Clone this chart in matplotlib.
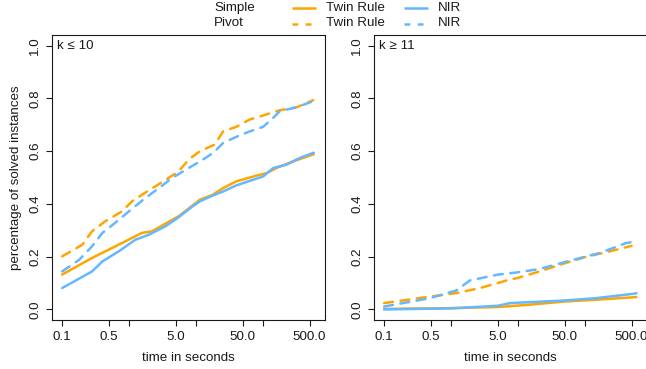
import matplotlib
matplotlib.use("Agg")
import matplotlib.pyplot as plt
from matplotlib.lines import Line2D

plt.rcParams['font.family'] = ['Liberation Sans', 'DejaVu Sans']

ORANGE = "#FFA500"
BLUE = "#63B8FF"

# ---- data: left panel (k <= 10) ----
L_twin_simple_t = [0.1, 0.28, 0.56, 1.11, 1.56, 2.2, 3.5, 5.5, 8.3, 11.5, 18, 25.5, 40, 80, 115, 160, 283, 577]
L_twin_simple_v = [0.132, 0.195, 0.233, 0.271, 0.29, 0.296, 0.325, 0.353, 0.388, 0.416, 0.435, 0.46, 0.485, 0.507, 0.517, 0.536, 0.561, 0.588]
L_nir_simple_t = [0.1, 0.28, 0.4, 0.7, 1.24, 1.97, 3.5, 5.5, 8.3, 11.5, 18, 25.5, 40, 60, 101, 143, 228, 356, 577]
L_nir_simple_v = [0.081, 0.144, 0.182, 0.22, 0.264, 0.283, 0.315, 0.349, 0.385, 0.41, 0.432, 0.447, 0.47, 0.485, 0.504, 0.536, 0.549, 0.574, 0.594]
L_twin_pivot_t = [0.1, 0.2, 0.28, 0.44, 0.79, 1.11, 1.97, 3.1, 5.5, 7.8, 11.5, 19.2, 25.5, 40, 64, 101, 179, 318, 564]
L_twin_pivot_v = [0.201, 0.245, 0.296, 0.334, 0.372, 0.41, 0.451, 0.482, 0.523, 0.568, 0.6, 0.625, 0.675, 0.692, 0.72, 0.735, 0.755, 0.766, 0.793]
L_nir_pivot_t = [0.1, 0.18, 0.28, 0.4, 0.62, 1.0, 1.75, 2.8, 4.4, 7.8, 11.5, 18.1, 25.5, 40, 64, 101, 143, 179, 318, 564]
L_nir_pivot_v = [0.144, 0.188, 0.239, 0.29, 0.328, 0.372, 0.422, 0.46, 0.498, 0.536, 0.561, 0.593, 0.631, 0.654, 0.675, 0.692, 0.726, 0.751, 0.766, 0.789]

# ---- data: right panel (k >= 11) ----
R_twin_simple_t = [0.1, 1, 5, 15, 50, 150, 460, 590]
R_twin_simple_v = [0.002, 0.005, 0.009, 0.018, 0.03, 0.037, 0.045, 0.047]
R_nir_simple_t = [0.1, 1, 5, 7.6, 50, 150, 560, 590]
R_nir_simple_v = [0.0, 0.004, 0.014, 0.024, 0.034, 0.043, 0.06, 0.062]
R_twin_pivot_t = [0.1, 0.49, 1.2, 2.7, 5, 6.8, 9.5, 21, 50, 106, 236, 500]
R_twin_pivot_v = [0.024, 0.049, 0.062, 0.081, 0.10, 0.11, 0.118, 0.144, 0.175, 0.2, 0.22, 0.241]
R_nir_pivot_t = [0.1, 0.49, 1.2, 1.92, 5, 9.5, 21, 60, 168, 419, 500]
R_nir_pivot_v = [0.011, 0.043, 0.072, 0.11, 0.132, 0.14, 0.153, 0.185, 0.214, 0.252, 0.255]

x_ticks = [0.1, 0.5, 1, 5, 10, 50, 100, 500]
x_ticklabels = ["0.1", "0.5", "", "5.0", "", "50.0", "", "500.0"]
y_ticks = [0.0, 0.2, 0.4, 0.6, 0.8, 1.0]
y_ticklabels = ["0.0", "0.2", "0.4", "0.6", "0.8", "1.0"]
panel_titles = ["k \u2264 10", "k \u2265 11"]
legend_rows = ["Simple", "Pivot"]
legend_series = ["Twin Rule", "NIR"]

FS = 9.6
LW = 1.8
DASH = (0, (3.6, 3.0))
TXT = '#1a1a1a'

W, H = 646, 369
fig = plt.figure(figsize=(W / 100, H / 100), dpi=100)

axes_px = [(52, 35), (374, 35)]
aw, ah = 273, 285
panels = [
    [(L_twin_simple_t, L_twin_simple_v, ORANGE, '-'),
     (L_twin_pivot_t, L_twin_pivot_v, ORANGE, DASH),
     (L_nir_simple_t, L_nir_simple_v, BLUE, '-'),
     (L_nir_pivot_t, L_nir_pivot_v, BLUE, DASH)],
    [(R_twin_simple_t, R_twin_simple_v, ORANGE, '-'),
     (R_twin_pivot_t, R_twin_pivot_v, ORANGE, DASH),
     (R_nir_simple_t, R_nir_simple_v, BLUE, '-'),
     (R_nir_pivot_t, R_nir_pivot_v, BLUE, DASH)],
]

for i, (x0, y0) in enumerate(axes_px):
    ax = fig.add_axes([x0 / W, (H - y0 - ah) / H, aw / W, ah / H])
    for t, v, c, ls in panels[i]:
        ax.plot(t, v, color=c, lw=LW, linestyle=ls, solid_capstyle='round',
                dash_capstyle='round', solid_joinstyle='round')
    ax.set_xscale('log')
    ax.set_xlim(10 ** -1.151, 10 ** 2.929)
    ax.set_ylim(-0.04, 1.04)
    ax.set_xticks(x_ticks)
    ax.set_xticklabels(x_ticklabels)
    ax.minorticks_off()
    ax.set_yticks(y_ticks)
    ax.set_yticklabels(y_ticklabels, rotation=90, va='center')
    ax.tick_params(axis='both', direction='out', length=4.3, width=0.8,
                   labelsize=FS, pad=3.5, colors=TXT, labelcolor=TXT)
    for s in ax.spines.values():
        s.set_linewidth(0.8)
        s.set_color(TXT)
    ax.set_xlabel("time in seconds", fontsize=FS, labelpad=6.5, color=TXT)
    if i == 0:
        ax.set_ylabel("percentage of solved instances", fontsize=FS, labelpad=5, color=TXT)
    ax.annotate(panel_titles[i], xy=(0, 1), xycoords='axes fraction',
                xytext=(3.4, -8), textcoords='offset points', ha='left', va='center',
                fontsize=FS, color=TXT)

# legend (top, drawn in figure pixels)
def fx(px):
    return px / W

def fy(py):
    return 1 - py / H

row_y = [8, 23.5]
for r, label in enumerate(legend_rows):
    fig.text(fx(214), fy(row_y[r]), label, fontsize=FS, va='center', ha='left', color=TXT)
    for (x_a, x_b, x_t), c, name in zip([(292, 316, 326), (404, 428, 438)], [ORANGE, BLUE], legend_series):
        ln = Line2D([fx(x_a), fx(x_b)], [fy(row_y[r])] * 2, transform=fig.transFigure,
                    color=c, lw=LW, linestyle='-' if r == 0 else (0, (2.3, 3.0)),
                    dash_capstyle='butt', solid_capstyle='butt')
        fig.add_artist(ln)
        fig.text(fx(x_t), fy(row_y[r]), name, fontsize=FS, va='center', ha='left', color=TXT)

fig.savefig("out.png", dpi=100)
